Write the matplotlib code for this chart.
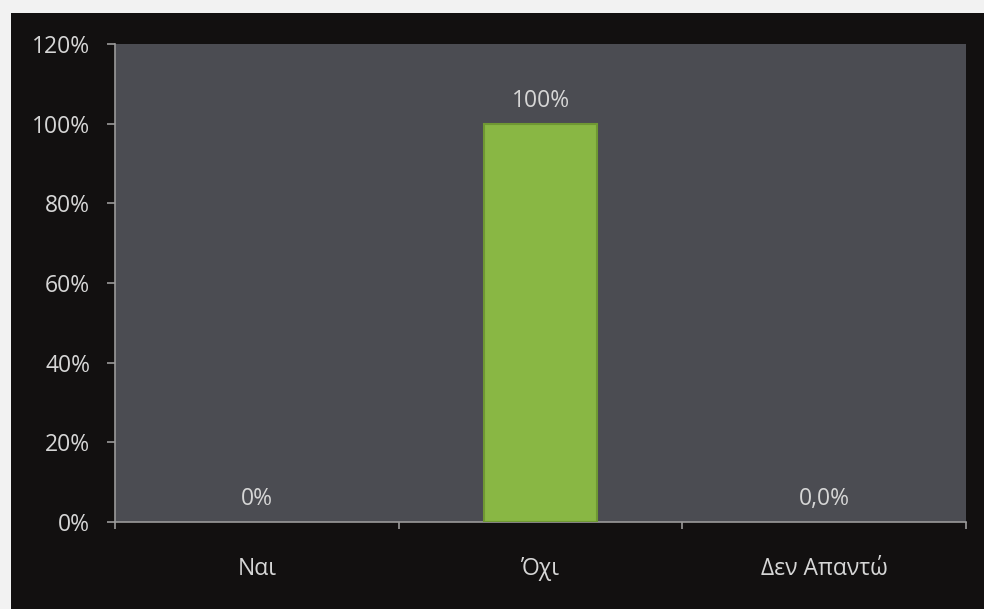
import matplotlib
matplotlib.use("Agg")
import matplotlib.pyplot as plt
from matplotlib.patches import Rectangle

# ---------------------------------------------------------------------
# Data
# ---------------------------------------------------------------------

categories = ["Ναι", "Όχι", "Δεν Απαντώ"]
shares = [0.0, 1.0, 0.0]
share_labels = ["0%", "100%", "0,0%"]
y_ticks = [0.0, 0.2, 0.4, 0.6, 0.8, 1.0, 1.2]
y_tick_labels = ["0%", "20%", "40%", "60%", "80%", "100%", "120%"]

# ---------------------------------------------------------------------
# Visualize
# ---------------------------------------------------------------------

plt.rcParams["font.family"] = ["Open Sans", "DejaVu Sans"]

text_color = "#d6d6d6"
axis_color = "#9a9a9a"
font_size = 16.5

fig = plt.figure(figsize=(9.84, 6.09), dpi=100, facecolor="#f2f2f2")
fig.patches.append(Rectangle((11 / 984, 0), 1, (609 - 13) / 609,
                             transform=fig.transFigure, facecolor="#121010",
                             edgecolor="none", zorder=-1))

ax = fig.add_axes([115 / 984, 87 / 609, 851 / 984, 478 / 609])
ax.set_facecolor("#4b4c52")

x = range(len(categories))
bars = ax.bar(x, shares, width=0.4, color="#89b744", linewidth=0, zorder=3)
# thin bevel around the non-empty bars
for bar, val in zip(bars, shares):
    if val > 0:
        bar.set_edgecolor("#6f9833")
        bar.set_linewidth(1.5)

for xi, val, lab in zip(x, shares, share_labels):
    ax.annotate(lab, (xi, val), xytext=(0, 8), textcoords="offset points",
                ha="center", va="bottom", fontsize=font_size, color=text_color)

ax.set_xlim(-0.5, 2.5)
ax.set_ylim(0, 1.2)
ax.set_yticks(y_ticks)
ax.set_yticklabels(y_tick_labels)
ax.set_xticks(list(x))
ax.set_xticklabels(categories)
ax.set_xticks([-0.5, 0.5, 1.5, 2.5], minor=True)

ax.tick_params(axis="y", colors=axis_color, labelcolor=text_color,
               labelsize=font_size, length=6, width=1.2, pad=12)
ax.tick_params(axis="x", which="major", length=0, pad=25,
               labelcolor=text_color, labelsize=font_size)
ax.tick_params(axis="x", which="minor", length=5, width=1.2, colors=axis_color)

for side in ["top", "right"]:
    ax.spines[side].set_visible(False)
for side in ["left", "bottom"]:
    ax.spines[side].set_color(axis_color)
    ax.spines[side].set_linewidth(1.2)

plt.savefig("out.png", dpi=100, facecolor=fig.get_facecolor())
